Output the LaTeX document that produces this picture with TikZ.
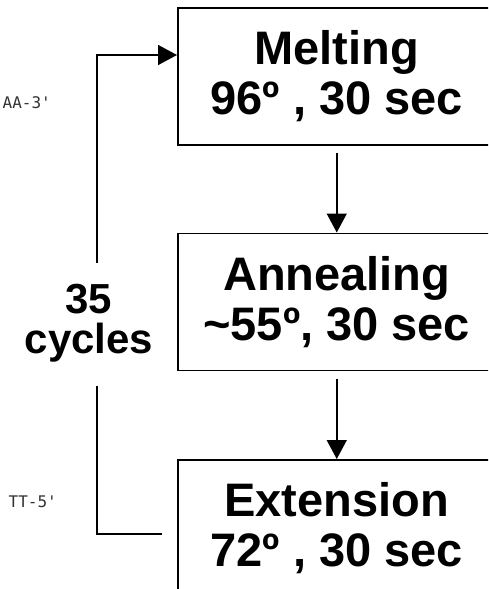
\documentclass[tikz,border=0pt]{standalone}
\usepackage{fontspec}
\setmainfont{Liberation Sans}
\newfontfamily\seqfont{DejaVu Sans Mono}
\usepackage{tikz}
\usetikzlibrary{arrows.meta,positioning,calc}
\definecolor{seqgray}{RGB}{50,50,50}

\begin{document}
\begin{tikzpicture}[x=1pt,y=-1pt,
    stepbox/.style={draw,line width=1.5pt,rectangle,anchor=north west,
        minimum width=318pt,minimum height=137pt,inner sep=0pt,align=center,
        font=\fontsize{47}{50}\selectfont\bfseries},
    flow/.style={line width=1.5pt,-{Triangle[length=19pt,width=20pt]}},
    loopline/.style={line width=1.5pt},
    seqtext/.style={anchor=base east,inner sep=0pt,text=seqgray,
        font=\seqfont\fontsize{16}{18}\selectfont}]
    \useasboundingbox (0,0) rectangle (488,589);
    \clip (0,0) rectangle (488,589);
    % the three steps
    \node[stepbox] (melt) at (177,7) {Melting\\96º , 30 sec};
    \node[stepbox,below=87pt of melt] (anneal) {Annealing\\\textasciitilde55º, 30 sec};
    \node[stepbox,below=88pt of anneal] (ext) {Extension\\72º , 30 sec};
    \draw[flow,shorten <=7pt] (melt) -- (anneal);
    \draw[flow,shorten <=8pt] (anneal) -- (ext);
    % cycle loop
    \node[align=center,inner sep=0pt,font=\fontsize{42}{40}\selectfont\bfseries]
        (cycles) at (89,323) {35\\cycles};
    \coordinate (loopin) at (162,534);
    \coordinate (lowend) at (97,386);
    \coordinate (upend) at (97,263);
    \coordinate (meltin) at (melt.west |- 0,55);
    \draw[loopline] (loopin) -| (lowend);
    \draw[flow] (upend) |- (meltin);
    % sequence ends
    \node[seqtext] (seqtop) at (51,108) {AA-3'};
    \node[seqtext] (seqbot) at (57,507) {TT-5'};
\end{tikzpicture}
\end{document}
